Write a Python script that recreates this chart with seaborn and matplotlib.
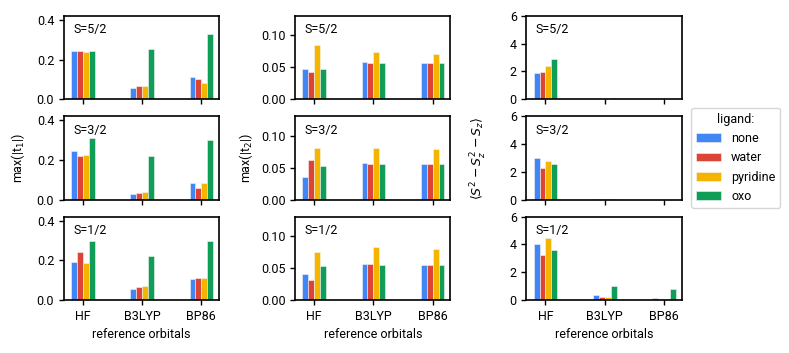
import numpy as np
import pandas as pd
import matplotlib.pyplot as plt
import seaborn as sns

# categories
orbitals = ["HF", "B3LYP", "BP86"]
ligands = ["none", "water", "pyridine", "oxo"]
spins = ["S=5/2", "S=3/2", "S=1/2"]
colors = ["#4285F4", "#DB4437", "#F4B400", "#0F9D58"]

# max(|t1|), rows = spin, then orbitals x ligands
t1_52 = [[0.245, 0.242, 0.238, 0.245], [0.055, 0.065, 0.065, 0.252], [0.112, 0.100, 0.082, 0.327]]
t1_32 = [[0.243, 0.220, 0.227, 0.312], [0.027, 0.035, 0.037, 0.220], [0.083, 0.060, 0.082, 0.300]]
t1_12 = [[0.193, 0.240, 0.188, 0.297], [0.056, 0.067, 0.072, 0.222], [0.108, 0.110, 0.112, 0.300]]

# max(|t2|)
t2_52 = [[0.047, 0.042, 0.085, 0.047], [0.058, 0.057, 0.074, 0.056], [0.057, 0.057, 0.070, 0.056]]
t2_32 = [[0.036, 0.062, 0.081, 0.052], [0.057, 0.056, 0.081, 0.056], [0.056, 0.056, 0.079, 0.056]]
t2_12 = [[0.041, 0.031, 0.075, 0.053], [0.056, 0.056, 0.082, 0.055], [0.055, 0.055, 0.080, 0.054]]

# <S^2 - Sz^2 - Sz>
s2_52 = [[1.92, 1.95, 2.40, 2.90], [0.00, 0.00, 0.00, 0.07], [0.00, 0.00, 0.00, 0.02]]
s2_32 = [[3.00, 2.30, 2.75, 2.60], [0.01, 0.01, 0.01, 0.01], [0.00, 0.00, 0.00, 0.00]]
s2_12 = [[4.00, 3.22, 4.47, 3.60], [0.35, 0.20, 0.20, 1.00], [0.15, 0.05, 0.05, 0.78]]

columns = [
    ([t1_52, t1_32, t1_12], r"max(|t$_1$|)", (0, 0.42), [0.0, 0.2, 0.4], "{:.1f}", 7),
    ([t2_52, t2_32, t2_12], r"max(|t$_2$|)", (0, 0.13), [0.0, 0.05, 0.10], "{:.2f}", 4),
    ([s2_52, s2_32, s2_12], r"$\langle S^2 - S_z^2 - S_z\rangle$", (0, 6), [0, 2, 4, 6], "{:.0f}", 15),
]

sns.set_style("ticks", {"axes.edgecolor": "black", "text.color": "black",
                        "xtick.color": "black", "ytick.color": "black",
                        "axes.labelcolor": "black"})
plt.rcParams["font.family"] = ["Roboto", "DejaVu Sans"]
plt.rcParams["mathtext.fontset"] = "dejavusans"
plt.rcParams["font.size"] = 9

fig, axes = plt.subplots(3, 3, figsize=(7.89, 3.53), dpi=100, sharex="col")
fig.subplots_adjust(left=0.081, right=0.864, top=0.955, bottom=0.15, wspace=0.49, hspace=0.205)

for c, (data, ylabel, ylim, yticks, fmt, pad) in enumerate(columns):
    for r in range(3):
        ax = axes[r, c]
        vals = data[r]
        df = pd.DataFrame({
            "orbitals": np.repeat(orbitals, len(ligands)),
            "ligand": ligands * len(orbitals),
            "value": np.array(vals).ravel(),
        })
        sns.barplot(data=df, x="orbitals", y="value", hue="ligand", order=orbitals,
                    hue_order=ligands, palette=colors, width=0.4, saturation=1,
                    edgecolor="#f4f4f4", linewidth=0.4, legend=False, ax=ax)
        ax.set_ylim(*ylim)
        ax.set_yticks(yticks)
        ax.set_yticklabels([fmt.format(v) for v in yticks])
        ax.set_xlim(-0.32, 2.3)
        ax.text(0.06, 0.91, spins[r], transform=ax.transAxes, va="top", ha="left", fontsize=9)
        ax.set_ylabel(ylabel if r == 1 else "", fontsize=9, labelpad=pad)
        ax.set_xlabel("reference orbitals" if r == 2 else "", fontsize=9)
        ax.tick_params(labelsize=9, length=3.5, width=1)
        for s in ax.spines.values():
            s.set_linewidth(1.2)

handles = [plt.Rectangle((0, 0), 1, 1, facecolor=col, edgecolor="#f4f4f4", linewidth=0.4) for col in colors]
axes[1, 2].legend(handles, ligands, title="ligand:", loc="center left", bbox_to_anchor=(1.02, 0.5),
                  frameon=True, fontsize=9, title_fontsize=9)

plt.savefig("out.png", dpi=100)
